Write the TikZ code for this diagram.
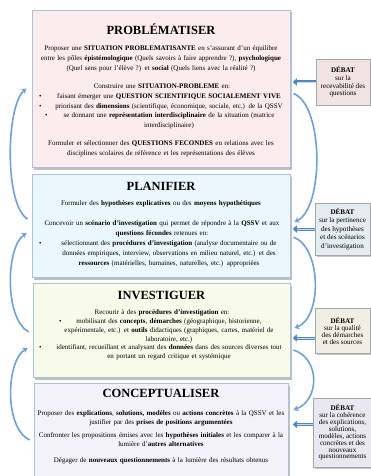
\documentclass[tikz,border=0pt]{standalone}
\usepackage{fontspec}
\setmainfont{Liberation Serif}
\usetikzlibrary{shadows,arrows.meta}
\definecolor{pinkbox}{HTML}{FDECEE}
\definecolor{cyanbox}{HTML}{EAF8FD}
\definecolor{yellowbox}{HTML}{F9FBEA}
\definecolor{lilacbox}{HTML}{F3F1FA}
\definecolor{debpink}{HTML}{EFE3E5}
\definecolor{debcyan}{HTML}{E3EDF1}
\definecolor{debyellow}{HTML}{EFF0E3}
\definecolor{deblilac}{HTML}{E9E7EF}
\definecolor{edgeblue}{HTML}{A9C3DF}
\definecolor{curveblue}{HTML}{6FA0D8}
\definecolor{arrowblue}{HTML}{4F86C6}
\definecolor{stripeblue}{HTML}{C4DAF1}
\tikzset{
  font={\fontsize{7pt}{9.6pt}\selectfont},
  mainbox/.style={draw=edgeblue, line width=0.8pt,
    drop shadow={shadow xshift=2pt, shadow yshift=-2.5pt, fill=black!50}},
  debatbox/.style={draw=black!35, line width=0.5pt, align=center,
    font={\fontsize{7.1pt}{7.6pt}\selectfont},
    drop shadow={shadow xshift=1.5pt, shadow yshift=-1.5pt, fill=black!45}},
  titletext/.style={anchor=base, font={\fontsize{12.5pt}{14pt}\selectfont\bfseries}},
  bodytext/.style={anchor=base, align=center, text width=252pt},
  bullettext/.style={anchor=base, align=center, text width=246pt},
  loopcurve/.style={draw=curveblue, line width=1.6pt, -{Stealth[length=5pt,width=6pt]}},
  debatarrow/.style={draw=arrowblue, line width=3pt, -{Triangle[length=4pt,width=7pt]}},
  debatstripe/.style={draw=stripeblue, line width=0.9pt, shorten >=4pt}
}
\newcommand{\bul}[2][0pt]{\makebox[14pt][l]{\hspace*{#1}\textbullet}\parbox[t]{232pt}{\centering #2}}

\begin{document}
\begin{tikzpicture}[x=1pt,y=1pt]
\tikzstyle{every node}+=[inner sep=0pt]
\useasboundingbox (0,0) rectangle (371,-476);
\node [mainbox, fill=pinkbox, minimum width=258pt, minimum height=157pt] (b1) at (161,-88.5) {};
\node [mainbox, fill=cyanbox, minimum width=258pt, minimum height=103pt] (b2) at (161,-225.5) {};
\node [mainbox, fill=yellowbox, minimum width=257pt, minimum height=94pt] (b3) at (161.5,-330) {};
\node [mainbox, fill=lilacbox, minimum width=254pt, minimum height=96pt] (b4) at (161,-431) {};
\node [titletext] (p1t) at (161,-35) {PROBLÉMATISER};
\node [bodytext] (p1a) at (161,-51) {Proposer une \textbf{SITUATION PROBLEMATISANTE} en s’assurant d’un équilibre\\
entre les pôles \textbf{épistémologique} (Quels savoirs à faire apprendre ?), \textbf{psychologique}\\
(Quel sens pour l’élève ?) et \textbf{social} (Quels liens avec la réalité ?)};
\node [bullettext] (p1b) at (162,-89) {Construire une \textbf{SITUATION-PROBLEME} en:\\
\bul{faisant émerger une \textbf{QUESTION SCIENTIFIQUE SOCIALEMENT VIVE}}\\
\bul{priorisant des \textbf{dimensions} (scientifique, économique, sociale, etc.) de la QSSV}\\
\bul[6pt]{se donnant une \textbf{représentation interdisciplinaire} de la situation (matrice\\ interdisciplinaire)}};
\node [bodytext] (p1c) at (161,-146) {Formuler et sélectionner des \textbf{QUESTIONS FECONDES} en relations avec les\\
disciplines scolaires de référence et les représentations des élèves};
\node [titletext] (p2t) at (161,-190.5) {PLANIFIER};
\node [bodytext] (p2a) at (161,-205) {Formuler des \textbf{hypothèses explicatives} ou des \textbf{moyens hypothétiques}};
\node [bullettext, font={\fontsize{7pt}{9.9pt}\selectfont}] (p2b) at (162,-225.5) {Concevoir un \textbf{scénario d’investigation} qui permet de répondre à la \textbf{QSSV} et aux\\
\textbf{questions fécondes} retenues en:\\
\bul{sélectionnant des \textbf{procédures d’investigation} (analyse documentaire ou de\\ données empiriques, interview, observations en milieu naturel, etc.) et des\\ \textbf{ressources} (matérielles, humaines, naturelles, etc.) appropriées}};
\node [titletext] (p3t) at (161.5,-299) {INVESTIGUER};
\node [bullettext, font={\fontsize{7pt}{9.2pt}\selectfont}] (p3a) at (162,-314) {Recourir à des \textbf{procédures d’investigation} en:\\
\bul[20pt]{mobilisant des \textbf{concepts}, \textbf{démarches} (géographique, historienne,\\ expérimentale, etc.) et \textbf{outils} didactiques (graphiques, cartes, matériel de\\ laboratoire, etc.)}\\
\bul{identifiant, recueillant et analysant des \textbf{données} dans des sources diverses tout\\ en portant un regard critique et systémique}};
\node [titletext] (p4t) at (161,-397) {CONCEPTUALISER};
\node [bodytext, font={\fontsize{7pt}{9pt}\selectfont}] (p4a) at (161,-415) {Proposer des \textbf{explications}, \textbf{solutions, modèles} ou \textbf{actions concrètes} à la QSSV et les\\
justifier par des \textbf{prises de positions argumentées}};
\node [bodytext, font={\fontsize{7pt}{9pt}\selectfont}] (p4b) at (161,-437) {Confronter les propositions émises avec les \textbf{hypothèses initiales} et les comparer à la\\
lumière d’\textbf{autres alternatives}};
\node [bodytext] (p4c) at (161,-462) {Dégager de \textbf{nouveaux questionnements} à la lumière des résultats obtenus};
\node [debatbox, fill=debpink, minimum width=54pt, minimum height=46pt] (d1) at (343,-82) {\textbf{DÉBAT}\\sur la\\recevabilité des\\questions};
\node [debatbox, fill=debcyan, minimum width=55pt, minimum height=52pt, font={\fontsize{7.1pt}{8.4pt}\selectfont}] (d2) at (342.5,-229) {\textbf{DÉBAT}\\sur la pertinence\\des hypothèses\\et des scénarios\\d’investigation};
\node [debatbox, fill=debyellow, minimum width=55pt, minimum height=45pt, font={\fontsize{7.1pt}{7.3pt}\selectfont}] (d3) at (342.5,-331) {\textbf{DÉBAT}\\sur la qualité\\des démarches\\et des sources};
\node [debatbox, fill=deblilac, minimum width=59pt, minimum height=69pt, font={\fontsize{7.1pt}{6.9pt}\selectfont}] (d4) at (342.5,-432.5) {\textbf{DÉBAT}\\sur la cohérence\\des explications,\\solutions,\\modèles, actions\\concrètes et des\\nouveaux\\questionnements};
\draw [loopcurve] ([xshift=-4pt,yshift=6.5pt]b2.west) .. controls (4,-205) and (6,-105) .. ([xshift=-5pt]b1.west);
\draw [loopcurve] ([xshift=-4pt,yshift=-2pt]b3.west) .. controls (4,-318) and (6,-247) .. ([xshift=-5pt,yshift=-7.5pt]b2.west);
\draw [loopcurve] ([xshift=-4pt,yshift=-9pt]b4.west) .. controls (4,-428) and (6,-361) .. ([xshift=-5pt,yshift=-18pt]b3.west);
\draw [loopcurve] ([xshift=3pt,yshift=-5pt]b1.east) .. controls (324,-105) and (324,-208) .. ([xshift=4pt,yshift=3.5pt]b2.east);
\draw [loopcurve] ([xshift=3pt,yshift=-11.5pt]b2.east) .. controls (322,-248) and (322,-318) .. ([xshift=4pt,yshift=2pt]b3.east);
\draw [loopcurve] ([xshift=3pt,yshift=-20pt]b3.east) .. controls (320,-358) and (320,-400) .. ([xshift=5pt,yshift=21pt]b4.east);
\draw [debatarrow] (d1.west) -- ++(-23,0) coordinate (e1);
\draw [debatstripe] (d1.west) -- (e1);
\draw [debatarrow] (d2.west) -- ++(-22,0) coordinate (e2);
\draw [debatstripe] (d2.west) -- (e2);
\draw [debatarrow] ([yshift=-7pt]d3.west) -- ++(-22,0) coordinate (e3);
\draw [debatstripe] ([yshift=-7pt]d3.west) -- (e3);
\draw [debatarrow] ([yshift=8pt]d4.west) -- ++(-20,0) coordinate (e4);
\draw [debatstripe] ([yshift=8pt]d4.west) -- (e4);
\end{tikzpicture}
\end{document}
